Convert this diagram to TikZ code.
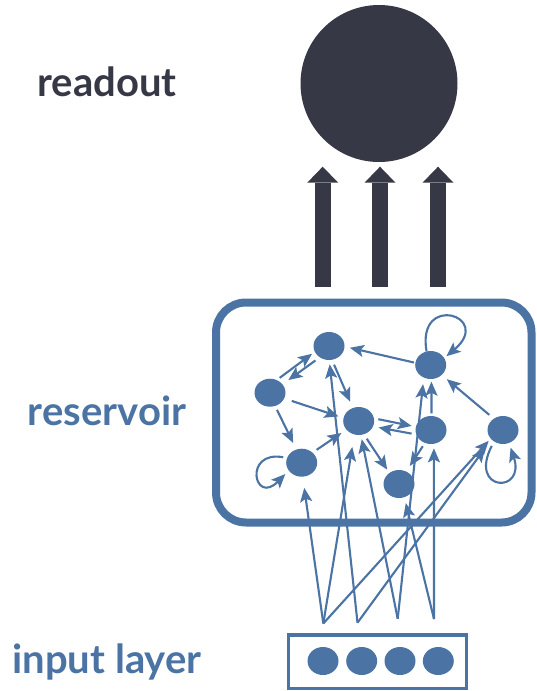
\documentclass[tikz,border=0pt]{standalone}
\usepackage{fontspec}
\setmainfont{Lato}
\usetikzlibrary{arrows.meta,shapes.geometric}
\definecolor{resblue}{HTML}{4B73A4}
\definecolor{readdark}{HTML}{363845}
\begin{document}
\begin{tikzpicture}[x=1pt,y=-1pt,
  unit/.style={ellipse, fill=resblue, inner sep=0pt, outer sep=0pt,
    minimum width=31pt, minimum height=28pt},
  link/.style={draw=resblue, line width=2.1pt,
    -{Stealth[length=14pt,width=12pt,inset=3pt]}},
  bigarrow/.style={draw=readdark, line width=15.8pt,
    -{Triangle[length=16pt,width=31pt,line width=0pt]}},
  lab/.style={font=\fontsize{40}{48}\selectfont\bfseries, anchor=base,
    inner sep=0pt}]
\useasboundingbox (0,0) rectangle (536,691);

% labels
\node[lab, text=readdark] (treadout) at (107,96.7) {readout};
\node[lab, text=resblue] (treservoir) at (107,425) {reservoir};
\node[lab, text=resblue] (tinput) at (107,673.3) {input layer};

% readout unit
\node[circle, fill=readdark, minimum size=157pt, inner sep=0pt] (readout) at (379,83.5) {};

% reservoir frame
\node[draw=resblue, line width=8pt, rounded corners=30pt, inner sep=0pt,
  minimum width=315.5pt, minimum height=220pt] (resbox) at (373.75,412.5) {};

% reservoir-to-readout arrows
\coordinate (rb1) at (322.7,286.7); \coordinate (rt1) at (322.7,166.7);
\coordinate (rb2) at (380,286.7);   \coordinate (rt2) at (380,166.7);
\coordinate (rb3) at (438,286.7);   \coordinate (rt3) at (438,166.7);
\draw[bigarrow] (rb1) -- (rt1);
\draw[bigarrow] (rb2) -- (rt2);
\draw[bigarrow] (rb3) -- (rt3);

% reservoir units
\node[unit] (A) at (329,346) {};
\node[unit] (B) at (430.7,365) {};
\node[unit] (C) at (270,392.7) {};
\node[unit] (D) at (358.7,421) {};
\node[unit] (E) at (431,430) {};
\node[unit] (F) at (503,430) {};
\node[unit] (G) at (301.7,462.7) {};
\node[unit] (H) at (399,484) {};

% recurrent connections
\draw[link, shorten <=3.7pt, shorten >=3.5pt] (C.62.6) -- (A.202.9);
\draw[link, shorten <=5.4pt, shorten >=7.3pt] (A.231.9) -- (C.34.8);
\draw[link, shorten <=1.5pt, shorten >=5.5pt] (B.172.2) -- (A.358);
\draw[link, shorten <=5.4pt, shorten >=6.9pt] (A.282.8) -- (D.114.3);
\draw[link, shorten <=8pt, shorten >=5.3pt] (C.338.9) -- (D.169.7);
\draw[link, shorten <=4.3pt, shorten >=7.4pt] (C.291.2) -- (G.112.8);
\draw[link, shorten <=5pt, shorten >=6pt] (G.43.1) -- (D.215.9);
\draw[link, shorten <=4.5pt, shorten >=4.3pt] (D.10.7) -- (E.168.3);
\draw[link, shorten <=4.8pt, shorten >=5.7pt] (E.197.3) -- (D.339.6);
\draw[link, shorten <=5.4pt, shorten >=4pt] (D.291.7) -- (H.131.3);
\draw[link, shorten <=4pt, shorten >=6.7pt] (E.245.2) -- (H.60.6);
\draw[link, shorten <=2.7pt, shorten >=2.7pt] (E.88) -- (B.273.4);
\draw[link, shorten <=6pt, shorten >=6.7pt] (F.129.1) -- (B.318.2);

% self connections
\draw[link, shorten >=3pt] (B.107) .. controls (416,292) and (494,316) .. (B.27);
\draw[link, shorten <=4pt, shorten >=5pt] (G.162) .. controls (243,450) and (254,506) .. (G.211);
\draw[link, shorten <=5pt, shorten >=5pt] (F.232) .. controls (468,492) and (526,494) .. (F.295);

% input layer
\node[draw=resblue, line width=3.5pt, inner sep=0pt, minimum width=178pt,
  minimum height=53.7pt] (inbox) at (377.5,661.65) {};
\node[unit] (i1) at (323,661) {};
\node[unit] (i2) at (361.7,661) {};
\node[unit] (i3) at (400,661) {};
\node[unit] (i4) at (438.3,661) {};

\coordinate (s1) at (323.3,623.5);
\coordinate (s2) at (357.5,622.7);
\coordinate (s3) at (397.7,618.7);
\coordinate (s4) at (434,619);

% input connections
\draw[link, shorten >=11.3pt] (s1) -- (G.274);
\draw[link, shorten >=12.7pt] (s1) -- (D.252.2);
\draw[link, shorten >=3pt] (s1) -- (F.215.5);
\draw[link, shorten >=4.3pt] (s2) -- (A.271);
\draw[link, shorten >=11pt] (s2) -- (F.219.5);
\draw[link, shorten >=4.4pt] (s3) -- (D.279.3);
\draw[link, shorten >=6.6pt] (s3) -- (B.241.3);
\draw[link, shorten >=6.2pt] (s4) -- (H.292.1);
\draw[link, shorten >=4.6pt] (s4) -- (E.282);
\end{tikzpicture}
\end{document}
